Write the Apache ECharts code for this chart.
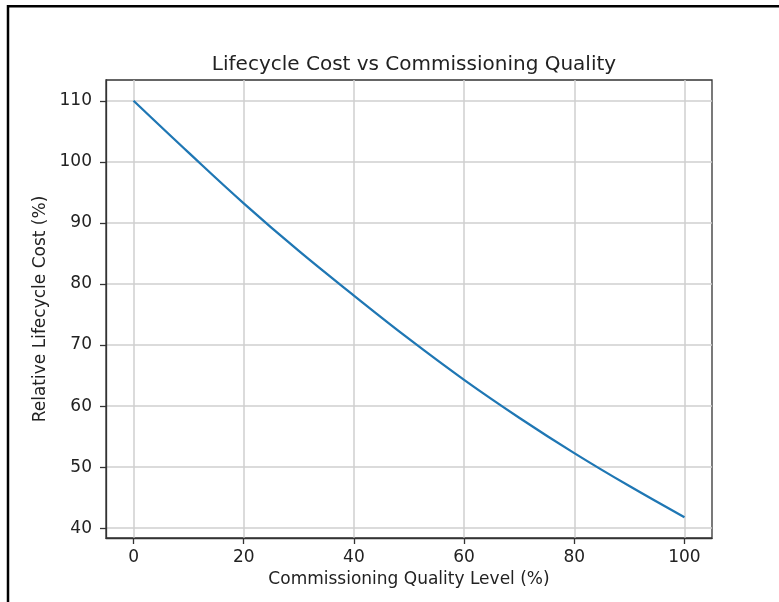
<!DOCTYPE html>
<html>
<head>
<meta charset="utf-8">
<script src="https://cdn.jsdelivr.net/npm/echarts@6/dist/echarts.min.js"></script>
<style>html,body{margin:0;padding:0;background:#fff;}#c{width:779px;height:602px;}</style>
</head>
<body>
<div id="c"></div>
<script>
const titleText = 'Lifecycle Cost vs Commissioning Quality';
const xName = 'Commissioning Quality Level (%)';
const yName = 'Relative Lifecycle Cost (%)';
const qualityLevels = [0, 10, 20, 30, 40, 50, 60, 70, 80, 90, 100];
const lifecycleCost = [110, 101.5, 93.2, 85.4, 78.1, 71.0, 64.3, 58.1, 52.3, 46.9, 41.8];
const xTicks = [0, 20, 40, 60, 80, 100];
const yTicks = [40, 50, 60, 70, 80, 90, 100, 110];

const chart = echarts.init(document.getElementById('c'), null, {renderer: 'canvas'});
const font = 'DejaVu Sans';
const axisColor = '#333';
const gridLine = {show: true, lineStyle: {color: '#cfcfcf', width: 1.5}};
chart.setOption({
  animation: false,
  backgroundColor: '#fff',
  title: {
    text: titleText, left: 409, top: 50, textAlign: 'center',
    textStyle: {fontFamily: font, fontSize: 20, fontWeight: 'normal', color: '#222'}
  },
  grid: {left: 106, right: 67, top: 80, bottom: 64, show: true, borderColor: axisColor, borderWidth: 1.3, backgroundColor: 'transparent'},
  xAxis: {
    type: 'value', min: -5, max: 105,
    name: xName, nameLocation: 'middle', nameGap: 32,
    nameTextStyle: {fontFamily: font, fontSize: 17, color: '#222'},
    axisLine: {show: true, onZero: false, lineStyle: {color: axisColor, width: 1.3}},
    axisTick: {show: true, length: 6, customValues: xTicks, lineStyle: {color: axisColor, width: 1.3}},
    axisLabel: {customValues: xTicks, margin: 11, fontFamily: font, fontSize: 17, color: '#222'},
    splitLine: Object.assign({customValues: xTicks}, gridLine)
  },
  yAxis: {
    type: 'value', min: 38.4, max: 113.4,
    name: yName, nameLocation: 'middle', nameGap: 53, nameRotate: 90,
    nameTextStyle: {fontFamily: font, fontSize: 17, color: '#222'},
    axisLine: {show: true, onZero: false, lineStyle: {color: axisColor, width: 1.3}},
    axisTick: {show: true, length: 6, customValues: yTicks, lineStyle: {color: axisColor, width: 1.3}},
    axisLabel: {customValues: yTicks, margin: 14, fontFamily: font, fontSize: 17, color: '#222'},
    splitLine: Object.assign({customValues: yTicks}, gridLine)
  },
  series: [{
    type: 'line',
    data: qualityLevels.map((q, i) => [q, lifecycleCost[i]]),
    smooth: 0.4,
    showSymbol: false,
    lineStyle: {color: '#1f77b4', width: 2.3},
    itemStyle: {color: '#1f77b4'}
  }],
  graphic: [
    {type: 'line', shape: {x1: 8, y1: 6.3, x2: 779, y2: 6.3}, style: {stroke: '#000', lineWidth: 2.5}},
    {type: 'line', shape: {x1: 8, y1: 5, x2: 8, y2: 602}, style: {stroke: '#000', lineWidth: 2.5}}
  ]
});
</script>
</body>
</html>
